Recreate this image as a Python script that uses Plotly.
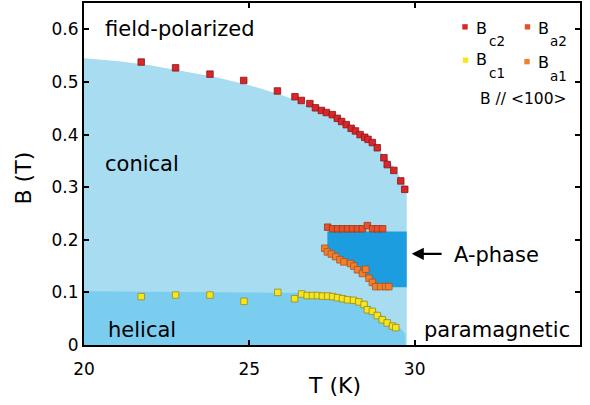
import plotly.graph_objects as go

# ---------------- data ----------------
Bc2_T = [21.73, 22.77, 23.81, 24.83, 25.85, 26.38, 26.57, 26.83, 27.00, 27.18, 27.33, 27.51, 27.66,
         27.79, 27.93, 28.08, 28.21, 28.35, 28.49, 28.59, 28.72, 28.87, 29.07, 29.17, 29.37, 29.58, 29.70]
Bc2_B = [0.538, 0.527, 0.515, 0.503, 0.483, 0.472, 0.465, 0.459, 0.451, 0.446, 0.442, 0.438, 0.431,
         0.425, 0.419, 0.412, 0.407, 0.400, 0.395, 0.391, 0.385, 0.375, 0.356, 0.343, 0.332, 0.312, 0.296]

Ba2_T = [27.37, 27.52, 27.67, 27.82, 27.97, 28.12, 28.27, 28.42, 28.57, 28.73, 28.88, 29.03]
Ba2_B = [0.224, 0.221, 0.221, 0.221, 0.221, 0.221, 0.221, 0.221, 0.227, 0.221, 0.221, 0.221]

Ba1_T = [27.28, 27.36, 27.48, 27.61, 27.74, 27.86, 28.06, 28.16, 28.27, 28.42, 28.52, 28.62, 28.72,
         28.82, 28.97, 29.12, 29.22]
Ba1_B = [0.184, 0.177, 0.173, 0.168, 0.162, 0.158, 0.155, 0.150, 0.143, 0.136, 0.144, 0.127, 0.119,
         0.111, 0.111, 0.111, 0.111]

Bc1_T = [21.73, 22.77, 23.81, 24.84, 25.86, 26.37, 26.58, 26.75, 26.91, 27.06, 27.21, 27.37, 27.52,
         27.67, 27.82, 27.97, 28.15, 28.31, 28.47, 28.57, 28.72, 28.87, 29.02, 29.17, 29.33, 29.43]
Bc1_B = [0.092, 0.095, 0.095, 0.083, 0.100, 0.088, 0.097, 0.094, 0.094, 0.094, 0.093, 0.093, 0.092,
         0.090, 0.088, 0.086, 0.085, 0.082, 0.077, 0.067, 0.064, 0.056, 0.048, 0.042, 0.036, 0.033]

# phase-region boundaries
conical_T = [20, 21, 22, 23, 24, 25, 26, 26.5, 27, 27.5, 28, 28.5, 29, 29.3, 29.5, 29.76, 29.76, 20]
conical_B = [0.545, 0.540, 0.532, 0.521, 0.509, 0.494, 0.475, 0.463, 0.450, 0.436, 0.418, 0.396,
             0.365, 0.345, 0.325, 0.300, 0, 0]

helical_T = [20, 27.2, 27.8, 28.2, 28.5, 28.8, 29.1, 29.4, 29.6, 29.72, 29.72, 20]
helical_B = [0.102, 0.099, 0.094, 0.088, 0.080, 0.066, 0.052, 0.038, 0.030, 0.020, 0, 0]

aphase_T = [27.36, 29.76, 29.76, 28.85, 28.6, 28.3, 28.0, 27.7, 27.36]
aphase_B = [0.216, 0.216, 0.110, 0.110, 0.130, 0.143, 0.156, 0.167, 0.186]

x_ticks = [20, 25, 30, 35]
y_ticks = [0, 0.1, 0.2, 0.3, 0.4, 0.5, 0.6]
y_ticktext = ["0", "0.1", "0.2", "0.3", "0.4", "0.5", "0.6"]

# ---------------- style ----------------
FONT = "DejaVu Sans"
C_CONICAL = "#a8dcf1"
C_HELICAL = "#7bcdf0"
C_APHASE = "#1c9de0"

series = [
    ("c2", Bc2_T, Bc2_B, "#d8262a", "#8c1616"),
    ("a2", Ba2_T, Ba2_B, "#e4532b", "#a33414"),
    ("c1", Bc1_T, Bc1_B, "#f6e61e", "#9a8a18"),
    ("a1", Ba1_T, Ba1_B, "#f0802e", "#b0501a"),
]

L, R, T_, B_ = 84, 10, 1, 60
W, H = 590, 405
PW, PH = W - L - R, H - T_ - B_


def px(x):
    return (x - L) / PW


def py(y):
    return (H - B_ - y) / PH


fig = go.Figure()

for xs, ys, col in [(conical_T, conical_B, C_CONICAL),
                    (helical_T, helical_B, C_HELICAL),
                    (aphase_T, aphase_B, C_APHASE)]:
    fig.add_trace(go.Scatter(x=xs, y=ys, fill="toself", fillcolor=col, mode="lines",
                             line=dict(width=0, color=col), hoverinfo="skip", showlegend=False))

for name, xs, ys, col, edge in series:
    fig.add_trace(go.Scatter(x=xs, y=ys, mode="markers", name="B" + name, showlegend=False,
                             marker=dict(symbol="square", size=6.5, color=col,
                                         line=dict(width=0.8, color=edge))))

annotations = [
    dict(x=20.57, y=0.600, text="field-polarized", xanchor="left", yanchor="middle"),
    dict(x=21.75, y=0.344, text="conical", xanchor="center", yanchor="middle"),
    dict(x=21.74, y=0.029, text="helical", xanchor="center", yanchor="middle"),
    dict(x=34.75, y=0.029, text="paramagnetic", xanchor="right", yanchor="middle"),
    dict(x=31.12, y=0.171, text="A-phase", xanchor="left", yanchor="middle"),
]
for a in annotations:
    a.update(xref="x", yref="y", showarrow=False, font=dict(family=FONT, size=21, color="black"))

# arrow pointing at the A-phase
annotations.append(dict(x=29.91, y=0.1733, ax=30.86, ay=0.1733, xref="x", yref="y", axref="x", ayref="y",
                        text="", showarrow=True, arrowhead=2, arrowsize=1.1, arrowwidth=2.2,
                        arrowcolor="black", standoff=0))

# axis titles
annotations.append(dict(x=px(23.5), y=py(177), xref="paper", yref="paper", text="B (T)", textangle=-90,
                        showarrow=False, xanchor="center", yanchor="middle",
                        font=dict(family=FONT, size=22, color="black")))
annotations.append(dict(x=px(334), y=py(386), xref="paper", yref="paper", text="T (K)",
                        showarrow=False, xanchor="center", yanchor="middle",
                        font=dict(family=FONT, size=22, color="black")))

# manual legend
shapes = []
legend_pos = [  # (marker x, marker y, B left, B y, sub left, sub y)
    (465, 25, 475, 26.5, 487.5, 39.5),
    (527.5, 25, 536.5, 26.5, 549, 39.5),
    (465.5, 58.5, 475, 58.0, 487.5, 71.0),
    (527, 60, 536.5, 60.5, 549, 74.0),
]
for (name, xs, ys, col, edge), (mx, my, bx, by, sx, sy) in zip(series, legend_pos):
    shapes.append(dict(type="rect", xref="paper", yref="paper",
                       x0=px(mx - 2.7), x1=px(mx + 2.7), y0=py(my + 2.7), y1=py(my - 2.7),
                       fillcolor=col, line=dict(width=0)))
    annotations.append(dict(x=px(bx), y=py(by), xref="paper", yref="paper", text="B", showarrow=False,
                            xanchor="left", yanchor="middle", borderpad=0,
                            font=dict(family=FONT, size=16, color="black")))
    annotations.append(dict(x=px(sx), y=py(sy), xref="paper", yref="paper", text=name, showarrow=False,
                            xanchor="left", yanchor="middle", borderpad=0,
                            font=dict(family=FONT, size=13.5, color="black")))

annotations.append(dict(x=px(478), y=py(98), xref="paper", yref="paper", text="B // &lt;100&gt;",
                        showarrow=False, xanchor="left", yanchor="middle",
                        font=dict(family=FONT, size=15.5, color="black")))

axis_common = dict(showline=True, linewidth=2, linecolor="black", mirror="ticks", ticks="inside",
                   ticklen=5, tickwidth=1.5, tickcolor="black", showgrid=False, zeroline=False,
                   tickfont=dict(family=FONT, size=17, color="black"))

fig.update_layout(
    width=W, height=H,
    margin=dict(l=L, r=R, t=T_, b=B_, pad=0),
    paper_bgcolor="white", plot_bgcolor="white",
    xaxis=dict(range=[20, 35], tickvals=x_ticks, ticklabelstandoff=8, **axis_common),
    yaxis=dict(range=[0, PH / 529], tickvals=y_ticks, ticktext=y_ticktext, **axis_common),
    annotations=annotations, shapes=shapes,
    showlegend=False,
)

fig.write_html("out.html")
